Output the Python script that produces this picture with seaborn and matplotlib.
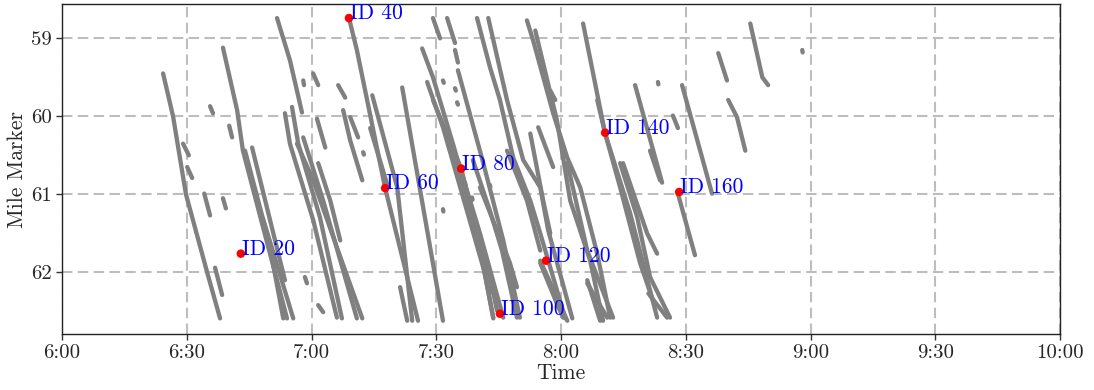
import numpy as np
import pandas as pd
import matplotlib
matplotlib.use("Agg")
import matplotlib.pyplot as plt
import seaborn as sns

# Vehicle trajectories: minutes after 6:00 and mile marker for each recorded piece
traj_minutes = [
    [24.3, 26.7, 29.8, 34.9, 38.0],
    [35.6, 36.3], [40.2, 40.9], [29.1, 30.5], [30.1, 31.3],
    [34.2, 35.6], [38.7, 39.4], [36.8, 38.5],
    [38.7, 42.1, 43.5, 54.1],
    [44.0, 48.1, 55.6],
    [45.7, 53.6],
    [50.7, 53.2],
    [51.7, 54.8, 57.7],
    [53.6, 54.8, 60.4, 66.1],
    [55.3, 56.8, 62.0, 67.3],
    [56.5, 60.4, 66.1, 72.2],
    [58.0, 62.8, 70.9],
    [61.6, 64.5, 66.9],
    [58.0, 58.2], [60.4, 61.6], [61.3, 63.3], [58.4, 58.9], [61.6, 62.8],
    [66.4, 68.1], [69.3, 71.2], [72.4, 72.6], [74.1, 78.4],
    [67.6, 69.3, 72.2],
    [69.0, 70.9, 77.7, 85.6],
    [74.6, 80.6, 84.2],
    [81.8, 91.6],
    [81.3, 83.0],
    [86.6, 89.2, 94.0, 97.4, 100.5, 103.7],
    [87.8, 91.6, 101.3, 102.9],
    [89.2, 96.0, 99.8, 103.7],
    [95.2, 101.3, 106.1, 110.1],
    [89.2, 90.9], [92.6, 94.5], [94.5, 95.2],
    [91.6, 91.8], [94.5, 94.7], [95.0, 95.2],
    [96.9, 97.0], [98.6, 98.7], [102.9, 103.0], [91.6, 91.7],
    [99.8, 102.9, 105.3, 108.5, 112.6, 115.0, 121.0],
    [102.5, 107.0, 110.9, 115.0, 116.9, 122.7],
    [100.5, 107.7, 109.4],
    [94.0, 98.8, 102.9, 104.6],
    [96.4, 100.5, 106.1],
    [98.8, 102.9, 105.8, 109.4],
    [107.0, 111.8, 115.0],
    [115.0, 119.0, 120.5],
    [111.8, 113.3, 118.1, 121.5, 124.6, 128.7, 131.8],
    [113.8, 119.0, 122.2, 127.0, 130.1],
    [114.5, 118.1],
    [112.6, 115.7, 117.4],
    [115.0, 121.5],
    [126.3, 129.4],
    [117.4, 118.6],
    [121.5, 126.3, 132.5],
    [126.3, 131.1],
    [125.3, 130.6, 136.6, 143.1],
    [128.7, 130.6, 134.2, 139.0, 142.1],
    [134.9, 140.7, 143.1],
    [134.2, 138.3, 141.4, 146.2],
    [141.4, 143.8],
    [137.8, 144.3],
    [143.3, 143.4],
    [141.0, 145.5],
    [149.1, 156.3],
    [146.9, 148.1],
    [148.1, 152.2],
    [157.8, 159.9],
    [160.2, 162.3, 164.3],
    [165.5, 168.4, 169.8],
    [178.0, 178.1],
]

traj_miles = [
    [59.45, 60.00, 61.00, 62.00, 62.59],
    [59.87, 59.96], [60.12, 60.27], [60.35, 60.50], [60.65, 60.79],
    [60.99, 61.27], [61.05, 61.18], [61.94, 62.29],
    [59.12, 59.92, 60.44, 62.59],
    [60.44, 61.27, 62.59],
    [60.40, 62.10],
    [61.88, 62.59],
    [58.74, 59.28, 59.95],
    [59.96, 60.35, 61.33, 62.58],
    [59.88, 60.35, 61.29, 62.59],
    [60.35, 60.82, 61.68, 62.59],
    [60.27, 61.08, 62.59],
    [60.60, 61.08, 61.59],
    [59.54, 59.60], [59.45, 59.60], [60.03, 60.40], [62.06, 62.14], [62.42, 62.51],
    [59.60, 59.76], [60.01, 60.27], [60.46, 60.49], [60.15, 60.91],
    [59.92, 60.31, 60.82],
    [58.74, 59.15, 60.92, 62.62],
    [59.73, 60.91, 62.62],
    [59.63, 62.62],
    [62.19, 62.62],
    [59.13, 59.50, 60.35, 60.99, 61.68, 62.58],
    [59.56, 60.14, 61.94, 62.27],
    [59.79, 60.67, 61.50, 62.59],
    [59.41, 60.60, 61.59, 62.58],
    [58.74, 59.00], [58.74, 59.06], [59.15, 59.31],
    [59.54, 59.57], [59.64, 59.67], [59.82, 59.85],
    [60.85, 60.88], [61.04, 61.07], [60.88, 60.91], [61.19, 61.22],
    [58.74, 59.37, 59.79, 60.53, 61.08, 61.50, 62.59],
    [58.74, 59.79, 60.56, 60.91, 61.46, 62.59],
    [60.91, 61.88, 62.19],
    [60.44, 61.29, 62.06, 62.49],
    [60.78, 61.50, 62.58],
    [60.56, 61.21, 61.72, 62.58],
    [60.44, 61.08, 61.72],
    [61.88, 62.40, 62.58],
    [58.77, 59.03, 59.96, 60.53, 60.91, 61.76, 62.58],
    [58.90, 60.05, 61.08, 61.85, 62.62],
    [60.14, 60.65],
    [60.22, 61.08, 61.50],
    [61.85, 62.62],
    [62.10, 62.62],
    [59.67, 59.79],
    [60.60, 61.72, 62.58],
    [62.14, 62.58],
    [58.81, 60.22, 61.24, 62.58],
    [59.79, 60.22, 60.91, 61.88, 62.36],
    [60.60, 61.50, 61.76],
    [60.60, 61.29, 62.06, 62.58],
    [60.44, 60.82],
    [59.60, 60.85],
    [59.56, 59.59],
    [62.27, 62.58],
    [59.60, 60.99],
    [59.99, 60.15],
    [60.99, 61.78],
    [59.19, 59.54],
    [59.79, 60.01, 60.44],
    [58.81, 59.50, 59.60],
    [59.15, 59.18],
]

# Highlighted vehicles
id_labels = ["ID 20", "ID 40", "ID 60", "ID 80", "ID 100", "ID 120", "ID 140", "ID 160"]
id_minutes = [43.0, 69.0, 77.7, 96.0, 105.3, 116.4, 130.6, 148.4]
id_miles = [61.76, 58.74, 60.92, 60.67, 62.53, 61.85, 60.21, 60.97]

# Axis ticks
time_ticks = [0, 30, 60, 90, 120, 150, 180, 210, 240]
time_labels = ["6:00", "6:30", "7:00", "7:30", "8:00", "8:30", "9:00", "9:30", "10:00"]
mile_ticks = [59, 60, 61, 62]

sns.set_style("white")
plt.rcParams["font.family"] = ["cmr10", "DejaVu Serif"]
plt.rcParams["mathtext.fontset"] = "cm"
plt.rcParams["axes.formatter.use_mathtext"] = True

rows = []
for k, (ts, ms) in enumerate(zip(traj_minutes, traj_miles)):
    for t, m in zip(ts, ms):
        rows.append({"traj": k, "time": t, "mile": m})
traj_df = pd.DataFrame(rows)
id_df = pd.DataFrame({"label": id_labels, "time": id_minutes, "mile": id_miles})

fig = plt.figure(figsize=(10.94, 3.90), dpi=100)
ax = fig.add_axes([0.0567, 0.1436, 0.9123, 0.8461])

sns.lineplot(data=traj_df, x="time", y="mile", units="traj", estimator=None,
             sort=False, color="#808080", linewidth=3.1, ax=ax, legend=False)
for ln in ax.lines:
    ln.set_solid_capstyle("round")

sns.scatterplot(data=id_df, x="time", y="mile", color="red", s=38,
                edgecolor="none", ax=ax, zorder=5, legend=False)
for lab, t, m in zip(id_labels, id_minutes, id_miles):
    ax.annotate(lab, (t, m), xytext=(0.5, 3.5), textcoords="offset points",
                ha="left", va="center", color="blue", fontsize=15.5, zorder=6)

ax.set_xlim(0, 240)
ax.set_ylim(62.79, 58.56)
ax.set_xticks(time_ticks)
ax.set_xticklabels(time_labels)
ax.set_yticks(mile_ticks)
ax.set_yticklabels([str(v) for v in mile_ticks])
ax.tick_params(axis="both", labelsize=15, length=4, width=1, color="#333333",
               direction="out", bottom=True, left=True)
ax.grid(True, color="#bdbdbd", linestyle=(0, (5, 2.6)), linewidth=1.5)
ax.set_axisbelow(True)
for sp in ax.spines.values():
    sp.set_visible(True)
    sp.set_color("#222222")
    sp.set_linewidth(1.0)
ax.set_xlabel("Time", fontsize=15.5, labelpad=1)
ax.set_ylabel("Mile Marker", fontsize=15.5, labelpad=3)

fig.savefig("out.png", dpi=100)
